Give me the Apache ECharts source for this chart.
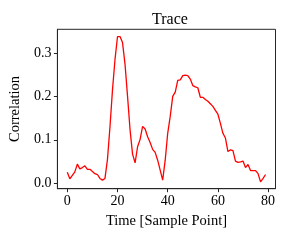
<!DOCTYPE html>
<html><head><meta charset="utf-8">
<script src="https://cdn.jsdelivr.net/npm/echarts@6/dist/echarts.min.js"></script>
<style>html,body{margin:0;padding:0;background:#fff}#c{width:290px;height:240px}</style>
</head><body><div id="c"></div>
<script>
const titleText = "Trace";
const xLabel = "Time [Sample Point]";
const yLabel = "Correlation";
const xTicks = [0, 20, 40, 60, 80];
const yTicks = [0, 0.1, 0.2, 0.3];
const correlation = [
  0.025, 0.010, 0.018, 0.026, 0.044, 0.033, 0.036, 0.040, 0.032, 0.032,
  0.027, 0.022, 0.020, 0.011, 0.007, 0.011, 0.055, 0.130, 0.215, 0.285,
  0.338, 0.338, 0.324, 0.274, 0.200, 0.123, 0.067, 0.047, 0.084, 0.101,
  0.131, 0.125, 0.107, 0.094, 0.078, 0.071, 0.053, 0.030, 0.007, 0.053,
  0.115, 0.154, 0.200, 0.210, 0.237, 0.238, 0.248, 0.249, 0.248, 0.240,
  0.225, 0.222, 0.220, 0.198, 0.198, 0.193, 0.189, 0.183, 0.177, 0.168,
  0.159, 0.138, 0.115, 0.104, 0.073, 0.077, 0.075, 0.051, 0.048, 0.049,
  0.051, 0.036, 0.043, 0.029, 0.029, 0.029, 0.022, 0.003, 0.011, 0.020
];
const points = correlation.map((v, i) => [i, v]);
const font = "Liberation Serif";
const chart = echarts.init(document.getElementById('c'));
chart.setOption({
  animation: false,
  title: { text: titleText, left: 165, top: 7, textAlign: 'center',
    textStyle: { fontFamily: font, fontSize: 16, fontWeight: 'normal', color: '#000' } },
  grid: { left: 55, right: 14.5, top: 29.3, bottom: 51.3, show: true, borderColor: '#262626', borderWidth: 1 },
  xAxis: {
    type: 'value', min: -3.95, max: 82.95,
    name: xLabel, nameLocation: 'middle', nameGap: 25,
    nameTextStyle: { fontFamily: font, fontSize: 14.5, color: '#000' },
    axisLine: { show: true, onZero: false, lineStyle: { color: '#262626', width: 1 } },
    splitLine: { show: false },
    axisTick: { show: true, inside: false, customValues: xTicks, length: 3.5, lineStyle: { color: '#262626' } },
    axisLabel: { customValues: xTicks, fontFamily: font, fontSize: 14, color: '#000', margin: 6 }
  },
  yAxis: {
    type: 'value', min: -0.0127, max: 0.3547,
    name: yLabel, nameLocation: 'middle', nameGap: 34,
    nameTextStyle: { fontFamily: font, fontSize: 14.5, color: '#000' },
    axisLine: { show: true, onZero: false, lineStyle: { color: '#262626', width: 1 } },
    splitLine: { show: false },
    axisTick: { show: true, inside: false, customValues: yTicks, length: 3.5, lineStyle: { color: '#262626' } },
    axisLabel: { customValues: yTicks, fontFamily: font, fontSize: 14, color: '#000', margin: 6,
      formatter: v => v.toFixed(1) }
  },
  series: [{ type: 'line', data: points, showSymbol: false, symbol: 'none',
    lineStyle: { color: '#ff0000', width: 1.3 } }]
});
</script></body></html>
